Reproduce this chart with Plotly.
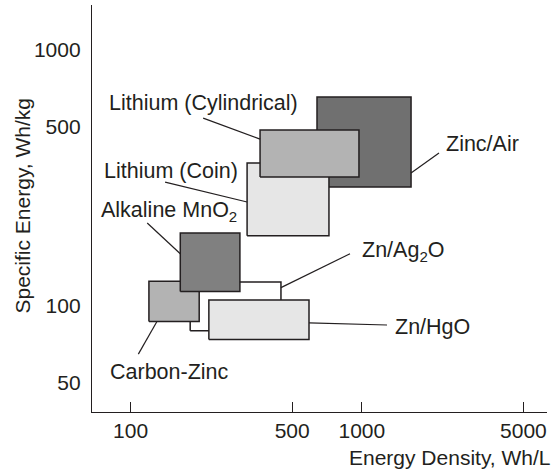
import math
import plotly.graph_objects as go

# ---- data (Energy Density Wh/L on x, Specific Energy Wh/kg on y) ----
systems = ["Zn/Ag<sub>2</sub>O", "Carbon-Zinc", "Alkaline MnO<sub>2</sub>", "Zn/HgO",
           "Zinc/Air", "Lithium (Coin)", "Lithium (Cylindrical)"]
ed_min = [181, 120, 164, 218, 640, 319, 363]
ed_max = [447, 198, 297, 591, 1633, 721, 972]
se_min = [80, 87, 114, 74, 292, 188, 319]
se_max = [124, 125, 193, 105.5, 655, 362, 487]

x_tick_vals = [100, 500, 1000, 5000]
y_tick_vals = [50, 100, 500, 1000]

# ---- styling ----
fills = ["#ffffff", "#b3b3b3", "#808080", "#e6e6e6", "#707070", "#e6e6e6", "#b3b3b3"]
ink = "#231f20"
FONT = "Liberation Sans, Arial, sans-serif"
LABEL_SIZE = 21.5
AXIS_SIZE = 21

# label placement: (label x, label y, anchor, leader box-point, leader label-point)
labels = {
    "Zn/Ag<sub>2</sub>O": dict(x=981, y=164, xanchor="left",
                               lead=((447, 118), (889, 160))),
    "Carbon-Zinc": dict(x=147, y=55.2, xanchor="center",
                        lead=((130, 87), (108, 64.9))),
    "Alkaline MnO<sub>2</sub>": dict(x=147, y=235, xanchor="center",
                                     lead=((164, 160), (118, 211))),
    "Zn/HgO": dict(x=1365, y=82.8, xanchor="left",
                   lead=((591, 85.9), (1285, 84.3))),
    "Zinc/Air": dict(x=2270, y=430, xanchor="left",
                     lead=((1633, 331), (2157, 396))),
    "Lithium (Coin)": dict(x=150, y=336, xanchor="center",
                           lead=((319, 255), (141, 305))),
    "Lithium (Cylindrical)": dict(x=206, y=621, xanchor="center",
                                  lead=((363, 449), (206, 542))),
}

fig = go.Figure()

for name, x0, x1, y0, y1, c in zip(systems, ed_min, ed_max, se_min, se_max, fills):
    fig.add_trace(go.Scatter(
        x=[x0, x1, x1, x0, x0], y=[y0, y0, y1, y1, y0],
        mode="lines", fill="toself", fillcolor=c,
        line=dict(color=ink, width=1.5), showlegend=False, hoverinfo="skip",
        name=name))

for name in systems:
    L = labels[name]
    (ax, ay), (bx, by) = L["lead"]
    fig.add_trace(go.Scatter(x=[ax, bx], y=[ay, by], mode="lines",
                             line=dict(color=ink, width=1.2),
                             showlegend=False, hoverinfo="skip"))

annotations = []
for name in systems:
    L = labels[name]
    # annotations on log axes take log10 positions
    annotations.append(dict(x=math.log10(L["x"]), y=math.log10(L["y"]),
                            xref="x", yref="y",
                            text=name, showarrow=False, xanchor=L["xanchor"],
                            yanchor="middle",
                            font=dict(family=FONT, size=LABEL_SIZE, color=ink)))

annotations.append(dict(text="Energy Density, Wh/L", xref="paper", yref="paper",
                        x=1, y=0, xanchor="right", yanchor="middle",
                        xshift=6, yshift=-45, showarrow=False,
                        font=dict(family=FONT, size=AXIS_SIZE, color=ink)))
annotations.append(dict(text="Specific Energy, Wh/kg", xref="paper", yref="paper",
                        x=0, y=0.5, xanchor="center", yanchor="middle",
                        textangle=-90, xshift=-70, yshift=3, showarrow=False,
                        font=dict(family=FONT, size=AXIS_SIZE, color=ink)))

fig.update_layout(
    width=560, height=470,
    margin=dict(l=92, r=13, t=5, b=58),
    paper_bgcolor="white", plot_bgcolor="white",
    font=dict(family=FONT, size=AXIS_SIZE, color=ink),
    annotations=annotations,
    xaxis=dict(type="log", range=[1.833, 3.801], tickvals=x_tick_vals,
               ticktext=[str(v) for v in x_tick_vals],
               ticks="inside", ticklen=10, tickwidth=1.2, tickcolor=ink,
               showline=True, linecolor=ink, linewidth=1.3,
               showgrid=False, zeroline=False,
               tickfont=dict(family=FONT, size=AXIS_SIZE, color=ink)),
    yaxis=dict(type="log", range=[1.586, 3.176], tickvals=y_tick_vals,
               ticktext=[str(v) for v in y_tick_vals],
               ticks="", showline=True, linecolor=ink, linewidth=1.3,
               showgrid=False, zeroline=False, ticklabelstandoff=6,
               tickfont=dict(family=FONT, size=AXIS_SIZE, color=ink)),
)

fig.write_html("out.html", config={"displayModeBar": False},
               post_script="document.body.style.margin='0px';"
                           "document.body.style.overflow='hidden';")
